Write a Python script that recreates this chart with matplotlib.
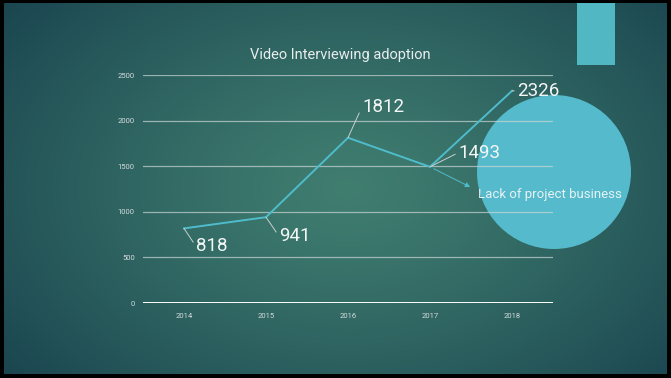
import matplotlib
matplotlib.use("Agg")
import matplotlib.pyplot as plt
from matplotlib.patches import Circle, Rectangle
import numpy as np

plt.rcParams["font.family"] = ["Roboto", "DejaVu Sans"]

years = ["2014", "2015", "2016", "2017", "2018"]
adoption = [818, 941, 1812, 1493, 2326]
# label offsets in pixels (dx, dy) from each point
label_offsets = [(12, -18), (13, -19), (14, 31), (28, 14), (5, 0)]
yticks = [0, 500, 1000, 1500, 2000, 2500]
note = "Lack of project business"

W, H = 671, 378
fig = plt.figure(figsize=(W / 100, H / 100), dpi=100, facecolor="black")

# ---- background panel: radial teal gradient ----
bg = fig.add_axes([4 / W, 4 / H, 663 / W, 371 / H], zorder=0)
xx, yy = np.meshgrid(np.linspace(0, 1, 400), np.linspace(0, 1, 240))
d = np.sqrt(((xx - 0.52) / 0.7) ** 2 + ((yy - 0.5) / 0.85) ** 2)
t = np.clip(d, 0, 1) ** 1.2
inner = np.array([64, 126, 112]) / 255
outer = np.array([24, 66, 78]) / 255
img = inner[None, None, :] * (1 - t[..., None]) + outer[None, None, :] * t[..., None]
bg.imshow(img, extent=[0, 1, 0, 1], aspect="auto", origin="lower")
bg.set_xlim(0, 1)
bg.set_ylim(0, 1)
bg.axis("off")

# decorative shapes, placed in inches (100 px per inch)
fig.add_artist(Rectangle((5.77, (H - 65) / 100), 0.38, 0.62, facecolor="#50b7c3",
                         edgecolor="none", transform=fig.dpi_scale_trans, zorder=1))
fig.add_artist(Circle((5.54, (H - 172) / 100), 0.77, facecolor="#55bacb",
                      edgecolor="none", transform=fig.dpi_scale_trans, zorder=1))

# ---- chart ----
ax = fig.add_axes([143 / W, 75 / H, 410 / W, 228 / H], zorder=2)
ax.patch.set_alpha(0)
x = np.arange(len(years))
ax.plot(x, adoption, color="#4fbccb", lw=1.4, zorder=3)
ax.set_xlim(-0.5, len(years) - 0.5)
ax.set_ylim(0, 2500)
ax.set_xticks(x, years)
ax.set_yticks(yticks, [str(v) for v in yticks])
ax.tick_params(length=0, labelsize=5.5, colors="#d3dcdc", pad=6)
ax.tick_params(axis="x", pad=7)
for s in ax.spines.values():
    s.set_visible(False)
for v in yticks[1:]:
    ax.axhline(v, color="#c9d6d6", lw=0.9, alpha=0.7, zorder=1)
ax.axhline(0, color="white", lw=1.4, zorder=2)

for xi, v, (dx, dy) in zip(x, adoption, label_offsets):
    ax.annotate(str(v), (xi, v), xytext=(dx, dy), textcoords="offset pixels",
                fontsize=13.5, color="#f4f6f6", va="center", ha="left",
                arrowprops=dict(arrowstyle="-", color="#c8d0d0", lw=0.7,
                                shrinkA=0, shrinkB=0, relpos=(0, 0.5)))

# arrow runs from the 2017 point towards the note, head at the note end
ax.annotate(note, (3, adoption[3]), xytext=(48, -28), textcoords="offset pixels",
            fontsize=9.5, color="#e6f2f4", va="center", ha="left",
            arrowprops=dict(arrowstyle="<|-,head_length=0.3,head_width=0.15",
                            color="#4fbccb", lw=0.7, shrinkA=4, shrinkB=3,
                            relpos=(0, 0.8)))

fig.text(340 / W, 1 - 55 / H, "Video Interviewing adoption", ha="center",
         va="center", fontsize=10.5, color="#e8eded")

fig.savefig("out.png", dpi=100, facecolor="black")
